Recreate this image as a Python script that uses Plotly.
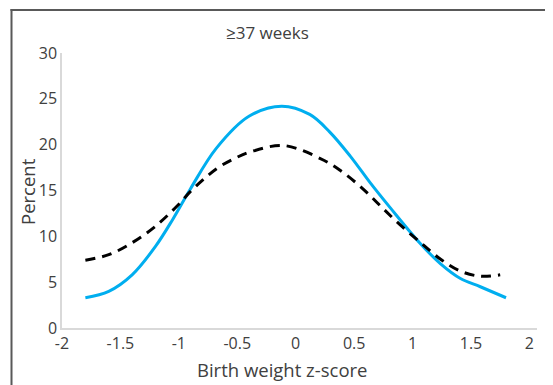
import plotly.graph_objects as go

# Data
blue_x = [-1.8, -1.6, -1.4, -1.2, -1.05, -0.9, -0.68, -0.4, -0.12, 0.12, 0.29, 0.47, 0.64, 0.81, 1.06, 1.24, 1.41, 1.58, 1.8]
blue_y = [3.3, 4.0, 5.8, 8.9, 11.9, 15.2, 19.6, 23.1, 24.2, 23.3, 21.4, 18.7, 15.8, 13.1, 9.3, 7.0, 5.4, 4.5, 3.3]

black_x = [-1.8, -1.6, -1.4, -1.2, -1.0, -0.9, -0.68, -0.53, -0.39, -0.1, 0.24, 0.38, 0.52, 0.64, 0.75, 0.89, 1.07, 1.24, 1.41, 1.58, 1.75]
black_y = [7.4, 8.0, 9.3, 11.1, 13.5, 14.9, 17.35, 18.45, 19.2, 19.9, 18.3, 17.2, 15.8, 14.4, 13.0, 11.3, 9.3, 7.5, 6.2, 5.65, 5.8]

x_ticks = [-2, -1.5, -1, -0.5, 0, 0.5, 1, 1.5, 2]
x_tick_text = ["-2", "-1.5", "-1", "-0.5", "0", "0.5", "1", "1.5", "2"]
y_ticks = [0, 5, 10, 15, 20, 25, 30]

title_text = "≥37 weeks"
x_title = "Birth weight z-score"
y_title = "Percent"

FONT = "Open Sans"
TXT = "#404040"
OFF = 8  # page body margin

fig = go.Figure()
fig.add_trace(go.Scatter(x=blue_x, y=blue_y, mode="lines", line=dict(color="#00AEEF", width=3, shape="spline", smoothing=1.0), showlegend=False))
fig.add_trace(go.Scatter(x=black_x, y=black_y, mode="lines", line=dict(color="#000000", width=3, dash="10px,7px", shape="spline", smoothing=1.0), showlegend=False))

W, H = 553, 385
# window-pixel layout of plot area: x 62..537, y 53..328
L, T = 62 - OFF, 53 - OFF
R = W - (537 - OFF)
B = H - (328 - OFF)
pw, ph = W - L - R, H - T - B

def px_to_paper_x(px):
    return (px - OFF - L) / pw

def py_to_paper_y(py):
    return (H - B - (py - OFF)) / ph

fig.update_layout(
    width=W, height=H,
    margin=dict(l=L, r=R, t=T, b=B),
    paper_bgcolor="white", plot_bgcolor="white",
    font=dict(family=FONT, size=16, color=TXT),
    xaxis=dict(range=[-2, 2.065], tickvals=x_ticks, ticktext=x_tick_text, showgrid=False, zeroline=False,
               showline=True, linecolor="#d9d9d9", linewidth=1.5, ticks="", tickfont=dict(size=16, color=TXT)),
    yaxis=dict(range=[0, 30], tickvals=y_ticks, showgrid=False, zeroline=False,
               showline=True, linecolor="#d9d9d9", linewidth=1.5, ticks="", tickfont=dict(size=16, color=TXT)),
    annotations=[
        dict(text=title_text, x=px_to_paper_x(267.5), y=py_to_paper_y(33), xref="paper", yref="paper",
             showarrow=False, font=dict(size=17, color=TXT, family=FONT), xanchor="center", yanchor="middle"),
        dict(text=x_title, x=px_to_paper_x(282.5), y=py_to_paper_y(369), xref="paper", yref="paper",
             showarrow=False, font=dict(size=18.5, color=TXT, family=FONT), xanchor="center", yanchor="middle"),
        dict(text=y_title, x=px_to_paper_x(28), y=py_to_paper_y(192), xref="paper", yref="paper", textangle=-90,
             showarrow=False, font=dict(size=18.5, color=TXT, family=FONT), xanchor="center", yanchor="middle"),
    ],
    shapes=[
        dict(type="line", xref="paper", yref="paper", x0=px_to_paper_x(11.5), x1=px_to_paper_x(11.5),
             y0=py_to_paper_y(9), y1=py_to_paper_y(400), line=dict(color="#595959", width=2)),
        dict(type="line", xref="paper", yref="paper", x0=px_to_paper_x(10.5), x1=px_to_paper_x(600),
             y0=py_to_paper_y(10), y1=py_to_paper_y(10), line=dict(color="#595959", width=2)),
    ],
)

fig.write_html("out.html")
